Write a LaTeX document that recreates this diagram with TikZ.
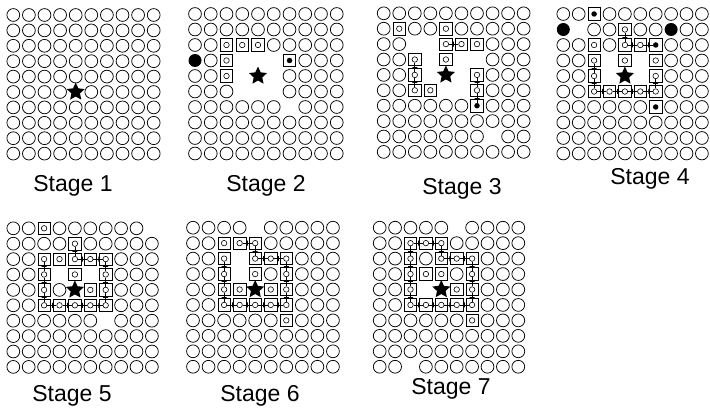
\documentclass[tikz,border=0pt]{standalone}
\usepackage{fontspec}
\setmainfont{Liberation Sans}
\usetikzlibrary{shapes.geometric}
\tikzset{
 ring/.style={circle,draw,line width=0.75pt,minimum size=12.8pt,inner sep=0pt},
 bigdot/.style={circle,fill,minimum size=13pt,inner sep=0pt},
 sqbox/.style={rectangle,draw,line width=0.7pt,minimum size=12.4pt,inner sep=0pt},
 smallring/.style={circle,draw,line width=0.6pt,minimum size=5.5pt,inner sep=0pt},
 smalldot/.style={circle,fill,minimum size=5.5pt,inner sep=0pt},
 starnode/.style={star,star points=5,star point ratio=2.1,fill,minimum size=19pt,inner sep=0pt},
 lnk/.style={line width=0.7pt},
 linktick/.style={sloped,draw,line width=0.6pt,minimum width=0pt,minimum height=5pt,inner sep=0pt,shape=rectangle},
 lbl/.style={font=\fontsize{23}{27}\selectfont,anchor=base,inner sep=0pt},
}
\newcommand\drawpanel[6]{%
 \foreach \rowlist [count=\rr from 0] in {#6} {%
  \foreach \k [count=\cc from 0] in \rowlist {%
   \coordinate (p#1-\rr-\cc) at ({#2+\cc*#4},{#3+\rr*#5});
   \if o\k \node[ring] (n#1-\rr-\cc) at (p#1-\rr-\cc) {};\fi
   \if F\k \node[bigdot] (n#1-\rr-\cc) at (p#1-\rr-\cc) {};\fi
   \if s\k \node[sqbox] (n#1-\rr-\cc) at (p#1-\rr-\cc) {};\node[smallring] (q#1-\rr-\cc) at (p#1-\rr-\cc) {};\fi
   \if d\k \node[sqbox] (n#1-\rr-\cc) at (p#1-\rr-\cc) {};\node[smalldot] (q#1-\rr-\cc) at (p#1-\rr-\cc) {};\fi
   \if x\k \node[starnode] (star#1) at (p#1-\rr-\cc) {};\fi
  }%
 }%
}
\newcommand\drawlinks[2]{%
 \foreach \a/\b in {#2} {\draw[lnk] (q#1-\a) -- node[linktick]{} (q#1-\b);}%
}
\begin{document}
\begin{tikzpicture}[x=1pt,y=-1pt]
\fill[white] (0,0) rectangle (710,414);
\useasboundingbox (0,0) rectangle (710,414);
% Stage 1
\drawpanel{1}{13.3}{15}{15.6}{15.4}{
{o,o,o,o,o,o,o,o,o,o},{o,o,o,o,o,o,o,o,o,o},{o,o,o,o,o,o,o,o,o,o},{o,o,o,o,o,o,o,o,o,o},
{o,o,o,o,o,o,o,o,o,o},{o,o,o,o,x,o,o,o,o,o},{o,o,o,o,o,o,o,o,o,o},{o,o,o,o,o,o,o,o,o,o},
{o,o,o,o,o,o,o,o,o,o},{o,o,o,o,o,o,o,o,o,o}}
% Stage 2
\drawpanel{2}{195}{14}{15.75}{15.5}{
{o,o,o,o,o,o,o,o,o,o},{o,o,o,o,o,o,o,o,o,o},{o,o,s,s,s,o,o,o,o,o},{F,o,s,e,e,e,d,o,o,o},
{o,o,s,e,x,e,o,o,o,o},{o,o,o,e,e,e,o,o,o,o},{o,o,o,o,o,o,e,o,o,o},{o,o,o,o,o,o,o,o,o,o},
{o,o,o,o,o,o,o,o,o,o},{o,o,o,o,o,o,o,o,o,o}}
% Stage 3
\drawpanel{3}{383.7}{13.3}{15.55}{15.4}{
{o,o,o,o,o,o,o,o,o,o},{o,s,o,o,s,o,o,o,o,o},{o,o,e,e,s,s,s,o,o,o},{o,o,s,e,s,e,e,o,o,o},
{o,o,s,e,x,e,s,o,o,o},{o,o,s,s,e,e,s,o,o,o},{o,o,o,o,o,o,d,o,o,o},{o,o,o,o,o,o,o,o,o,o},
{o,o,o,o,o,o,o,e,o,o},{o,o,o,o,o,o,o,o,o,o}}
\drawlinks{3}{2-4/2-5,3-2/4-2,4-2/5-2,4-6/5-6,5-6/6-6}
% Stage 4
\drawpanel{4}{563.3}{14}{15.4}{15.5}{
{o,o,d,o,o,o,o,o,o,o},{F,e,o,o,s,o,o,F,o,o},{o,o,s,o,s,s,d,o,o,o},{o,o,s,e,s,e,s,o,o,o},
{o,o,s,e,x,e,s,o,o,o},{o,o,s,s,s,s,s,o,o,o},{o,o,o,o,o,o,d,o,o,o},{o,o,o,o,o,o,o,o,o,o},
{o,o,o,o,o,o,o,o,o,o},{o,o,o,o,o,o,o,o,o,o}}
\drawlinks{4}{1-4/2-4,2-4/2-5,2-5/2-6,3-2/4-2,4-2/5-2,5-2/5-3,5-3/5-4,5-4/5-5,5-5/5-6,4-6/5-6}
% Stage 5
\drawpanel{5}{13.3}{228.3}{15.4}{15.4}{
{o,o,s,o,o,o,o,o,o,e},{o,o,o,o,s,o,o,o,o,o},{o,o,s,s,s,s,s,o,o,o},{o,o,s,e,s,e,s,o,o,o},
{o,o,s,o,x,s,s,o,o,o},{o,o,s,s,s,s,s,o,o,o},{o,o,o,o,o,o,e,o,o,o},{o,o,o,o,o,o,o,o,o,o},
{o,o,o,o,o,o,o,o,o,o},{o,o,o,o,o,o,o,o,o,o}}
\drawlinks{5}{1-4/2-4,2-4/2-5,2-5/2-6,2-2/3-2,3-2/4-2,4-2/5-2,5-2/5-3,5-3/5-4,5-4/5-5,5-5/5-6,2-6/3-6,3-6/4-6,4-6/5-6}
% Stage 6
\drawpanel{6}{193}{227.7}{15.55}{15.45}{
{o,o,o,o,e,o,o,o,o,o},{o,o,s,s,s,o,o,o,o,o},{o,o,s,e,s,s,s,o,o,o},{o,o,s,e,s,o,s,o,o,o},
{o,o,s,s,x,s,s,o,o,o},{o,o,s,s,s,s,s,o,o,o},{o,o,o,o,o,o,s,o,o,o},{o,o,o,o,o,o,o,o,o,o},
{o,o,o,o,o,o,o,o,o,o},{o,o,o,o,o,o,o,o,o,o}}
\drawlinks{6}{1-3/1-4,1-4/2-4,2-4/2-5,2-5/2-6,2-2/3-2,3-2/4-2,4-2/5-2,5-2/5-3,5-3/5-4,5-4/5-5,5-5/5-6,2-6/3-6,3-6/4-6,4-6/5-6}
% Stage 7
\drawpanel{7}{379.7}{227.7}{15.4}{15.45}{
{o,o,o,o,o,e,o,o,o,o},{o,o,s,s,s,o,o,o,o,o},{o,o,s,o,s,s,s,o,o,o},{o,o,s,s,s,o,s,o,o,o},
{o,o,s,e,x,s,s,o,o,o},{o,o,s,s,s,s,s,o,o,o},{o,o,o,o,o,o,s,o,o,o},{o,o,o,o,o,o,o,o,o,o},
{o,o,o,o,o,o,o,o,o,o},{o,o,e,o,o,o,o,o,o,o}}
\drawlinks{7}{1-2/1-3,1-3/1-4,1-2/2-2,2-2/3-2,3-2/4-2,4-2/5-2,1-4/2-4,2-4/2-5,2-5/2-6,2-6/3-6,3-6/4-6,4-6/5-6,5-2/5-3,5-3/5-4,5-4/5-5,5-5/5-6}
% Labels
\node[lbl] (l1) at (73,192) {Stage 1};
\node[lbl] (l2) at (266,192) {Stage 2};
\node[lbl] (l3) at (462,195) {Stage 3};
\node[lbl] (l4) at (650,185) {Stage 4};
\node[lbl] (l5) at (72,401) {Stage 5};
\node[lbl] (l6) at (260,401) {Stage 6};
\node[lbl] (l7) at (451,394) {Stage 7};
\end{tikzpicture}
\end{document}
